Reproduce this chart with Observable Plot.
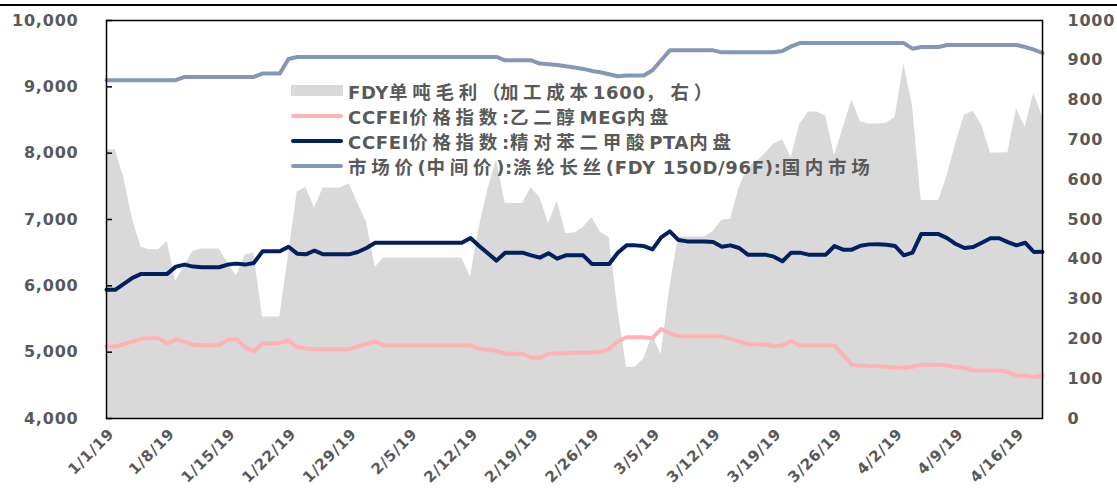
<!DOCTYPE html>
<html><head><meta charset="utf-8">
<script src="https://cdn.jsdelivr.net/npm/d3@7"></script>
<script src="https://cdn.jsdelivr.net/npm/@observablehq/plot@0.6"></script>
<style>
html,body{margin:0;padding:0;background:#fff;}
#wrap{position:relative;width:1117px;height:489px;overflow:hidden;}
#topline{position:absolute;left:0;top:4px;width:1117px;height:2px;background:#000;}
#legend{position:absolute;left:291px;top:78px;font-family:"DejaVu Sans","Noto Sans CJK SC",sans-serif;font-weight:bold;font-size:18px;color:#595959;}
.item{display:flex;align-items:center;height:25.2px;white-space:nowrap;}
.sw{width:52px;margin-right:5px;flex:none;}
.sw.area{height:11px;background:#D9D9D9;}
.sw.line{height:4px;border-radius:2px;}
.lat{letter-spacing:0.7px;}
.cjk{font-family:"Noto Sans CJK SC",sans-serif;font-size:18.5px;letter-spacing:4.7px;}
.fw{font-family:"Noto Sans CJK SC",sans-serif;font-size:18.5px;letter-spacing:-0.5px;}
#chart svg text{letter-spacing:0.8px;}
</style></head>
<body><div id="wrap"><div id="topline"></div><div id="chart"></div><div id="legend"></div></div>
<script>
// Daily dates 1/1/2019 .. 4/19/2019 (category axis of the chart)
const dates = d3.utcDay.range(new Date(Date.UTC(2019,0,1)), new Date(Date.UTC(2019,3,20)));

// 市场价(中间价):涤纶长丝(FDY 150D/96F):国内市场 (left axis)
const fdyPrice = [9100,9100,9100,9100,9100,9100,9100,9100,9100,
 9150,9150,9150,9150,9150,9150,9150,9150,9150,
 9200,9200,9200,9420,
 9450,9450,9450,9450,9450,9450,9450,9450,9450,9450,9450,9450,
 9450,9450,9450,9450,9450,9450,9450,9450,9450,9450,9450,9450,
 9400,9400,9400,9400,
 9350,9340,9330,9310,9290,9270,9240,9220,9190,9160,9170,9170,9170,9250,9400,9550,
 9550,9550,9550,9550,9550,
 9520,9520,9520,9520,9520,9520,9520,9540,
 9610,
 9660,9660,9660,9660,9660,9660,9660,9660,9660,9660,9660,9660,9660,
 9575,9600,9600,9600,
 9630,9630,9630,9630,9630,9630,9630,9630,9630,
 9600,9560,9510];

// CCFEI价格指数:精对苯二甲酸PTA内盘 (left axis)
const pta = [5940,5940,6030,6120,6180,6180,6180,6180,6290,6320,
 6290,6280,6280,6280,6320,6335,6320,6345,6520,6520,
 6520,6590,6485,6475,6530,6475,6475,6475,6475,6510,
 6570,6650,6650,6650,6650,6650,6650,6650,6650,6650,
 6650,6650,6720,6600,6490,6380,6500,6500,6500,6460,
 6425,6490,6410,6460,6460,6460,6330,6330,6330,6500,
 6610,6610,6600,6550,6730,6820,6690,6670,6670,6670,
 6660,6590,6610,6570,6470,6470,6470,6440,6370,6500,
 6500,6470,6470,6470,6600,6545,6545,6605,6625,6627,
 6620,6600,6460,6500,6780,6780,6780,6720,6630,6570,
 6585,6650,6718,6718,6660,6610,6650,6510,6512];

// CCFEI价格指数:乙二醇MEG内盘 (left axis)
const meg = [5085,5085,5120,5160,5205,5210,5210,5130,5190,5160,
 5110,5105,5105,5105,5190,5195,5075,5010,5135,5135,
 5140,5185,5075,5060,5045,5045,5045,5045,5045,5085,
 5125,5160,5100,5100,5100,5100,5100,5100,5100,5100,
 5100,5100,5100,5050,5035,5020,4975,4975,4975,4920,
 4915,4975,4980,4985,4990,4990,4995,5005,5050,5160,
 5225,5225,5225,5210,5350,5280,5245,5240,5240,5240,
 5240,5235,5200,5160,5120,5120,5115,5090,5100,5170,
 5100,5100,5100,5100,5100,4960,4810,4800,4790,4789,
 4780,4770,4760,4780,4810,4810,4810,4800,4775,4765,
 4723,4723,4723,4723,4700,4648,4645,4625,4648];

// FDY单吨毛利（加工成本1600，右） (right axis)
const margin = [675,675,605,500,430,424,424,445,345,385,
 420,426,426,426,390,358,410,416,255,255,
 255,410,569,581,528,579,579,579,590,540,
 493,380,403,403,403,403,403,403,403,403,
 403,403,355,480,575,650,540,540,540,580,
 555,490,545,465,466,480,505,468,455,275,
 129,129,150,210,160,330,456,456,456,456,
 470,498,500,580,630,645,665,690,700,655,
 740,770,770,760,660,730,800,745,740,740,
 742,757,890,785,548,548,548,610,692,762,
 772,736,667,667,668,778,732,818,757];

const leftTicks = [4000,5000,6000,7000,8000,9000,10000];
const rightTicks = [0,100,200,300,400,500,600,700,800,900,1000];
const seriesNames = ["FDY单吨毛利（加工成本1600， 右）","CCFEI价格指数:乙二醇MEG内盘","CCFEI价格指数:精对苯二甲酸PTA内盘","市场价(中间价):涤纶长丝(FDY 150D/96F):国内市场"];
const colors = ["#D9D9D9","#FFB3B3","#002060","#8497B8"];

// right axis 0..1000 maps onto left 4000..10000
const L0 = 4000, K = 6;
const rows = dates.map((d,i)=>({date:d, fdy:fdyPrice[i], pta:pta[i], meg:meg[i], margin:margin[i]}));
const xTicks = d3.utcDay.range(dates[0], dates[dates.length-1], 7);

const font = '"DejaVu Sans","Noto Sans CJK SC",sans-serif';
const chart = Plot.plot({
  width:1117, height:489,
  marginLeft:106, marginRight:75, marginTop:20, marginBottom:71,
  x:{type:"utc", domain:[dates[0], dates[dates.length-1]], label:null},
  y:{domain:[4000,10000], label:null},
  style:{fontFamily:font, fontSize:"16px", fontWeight:"bold", background:"transparent", color:"#595959"},
  marks:[
    Plot.areaY(rows,{x:"date", y1:L0, y2:d=>L0+d.margin*K, fill:colors[0]}),
    Plot.lineY(rows,{x:"date", y:"meg", stroke:colors[1], strokeWidth:4, strokeLinejoin:"round", strokeLinecap:"round"}),
    Plot.lineY(rows,{x:"date", y:"pta", stroke:colors[2], strokeWidth:4, strokeLinejoin:"round", strokeLinecap:"round"}),
    Plot.lineY(rows,{x:"date", y:"fdy", stroke:colors[3], strokeWidth:4, strokeLinejoin:"round", strokeLinecap:"round"}),
    Plot.frame({stroke:"#000", strokeWidth:1.5}),
    Plot.axisY({anchor:"left", ticks:leftTicks, tickFormat:d3.format(","), tickSize:-6, tickPadding:34, stroke:"#000", strokeWidth:1.5, fill:"#595959", fontSize:16, label:null}),
    Plot.axisY({anchor:"right", ticks:rightTicks.map(v=>L0+v*K), tickFormat:v=>String(Math.round((v-L0)/K)), tickSize:0, tickPadding:25, fill:"#595959", fontSize:16, textAnchor:"start", label:null}),
    Plot.axisX({ticks:xTicks, tickFormat:d3.utcFormat("%-m/%-d/%y"), tickRotate:-45, tickSize:0, tickPadding:13, dx:5, fill:"#595959", fontSize:15, label:null})
  ]
});
document.getElementById("chart").appendChild(chart);

const leg = document.getElementById("legend");
seriesNames.forEach((name,i)=>{
  const it = document.createElement("div"); it.className="item";
  const sw = document.createElement("div"); sw.className = "sw " + (i===0?"area":"line");
  sw.style.background = colors[i];
  const tx = document.createElement("span");
  // split the label into runs so CJK glyphs get their wider spacing
  const re = /([\u4e00-\u9fff]+)|([\u3000-\u303f\uff00-\uffef]+)|([^\u4e00-\u9fff\u3000-\u303f\uff00-\uffef]+)/g;
  let m;
  while ((m = re.exec(name))) {
    const s = document.createElement("span");
    s.className = m[1] ? "cjk" : m[2] ? "fw" : "lat";
    s.textContent = m[0];
    tx.appendChild(s);
  }
  it.appendChild(sw); it.appendChild(tx); leg.appendChild(it);
});
</script></body></html>
